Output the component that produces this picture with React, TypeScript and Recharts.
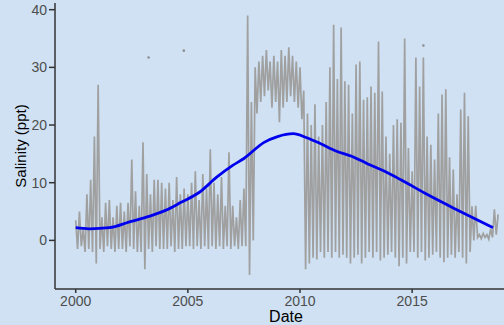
import React from 'react';
import { ComposedChart, Line, Scatter, XAxis, YAxis } from 'recharts';

// monthly readings (alternating highs and lows)
const s2000 = [3.5, -1.5, 5, -1, 2, -2, 8, -1.5, 10.5, -2, 18, -4];
const s2001 = [27, -1.5, 4, -2, 6.5, -1, 7, -1.5, 4, -2, 6, -1.5];
const s2002 = [6.5, -1.5, 5, -2, 6.5, -1, 14, -1.5, 8.5, -2, 6, -2];
const s2003 = [17, -5, 11.5, -1.5, 8, -2, 10.5, -1, 10.5, -1.5, 10, -1.5];
const s2004 = [9, -1.5, 10, -1, 7, -2, 11, -1.5, 8, -1.5, 9, -1];
const s2005 = [8, -1, 10, -1.5, 12, -1, 7, -1.5, 11.5, -1, 9, -1.5];
const s2006 = [15.8, -1, 10, -1.5, 8, -1, 11, -1.5, 6, -1, 15.3, -1.5];
const s2007 = [6, -1, 4, -1.5, 7, -1, 9, -1, 39, -6, 24, 0];
const s2008 = [30, 22, 31, 24, 32, 25, 33, 26, 31, 23, 32, 24];
const s2009 = [31, 20.5, 33, 23, 32, 24, 33.5, 25, 32, 24, 31, 23];
const s2010 = [30, 21, 26, -5, 22, -4, 20, -3, 23.6, -3.3, 18, -2];
const s2011 = [20, -3, 24, -2, 30, -3, 37.4, -2, 28, -3, 36.9, -2.5];
const s2012 = [27.6, -3, 27, -4, 22, -3, 30.5, -2.5, 31, -4, 24.4, -3];
const s2013 = [24.8, -2, 26.7, -3, 25.6, -2, 34.5, -3.5, 25.8, -3, 18, -2.5];
const s2014 = [15, -2, 20, -3, 21, -4.5, 20.4, -3, 35, -4, 16, -2];
const s2015 = [12, -2, 31.7, -3, 26.7, -2, 31.7, -3.5, 18, -3, 16.6, -2.5];
const s2016 = [14, -2, 22, -3, 25.3, -3.8, 26.2, -3, 14.4, -2.5, 12.3, -3];
const s2017 = [8, -2, 22.7, -3, 25.6, -4, 21.5, -2, 5.9, 0, 6, 0.5];
const s2018 = [1, 0.3, 1.2, 0.5, 1, 0.2, 2, 0.5, 5.4, 1, 4.5];

const firstYear = 2000;
const yearRows = [s2000, s2001, s2002, s2003, s2004, s2005, s2006, s2007, s2008, s2009,
  s2010, s2011, s2012, s2013, s2014, s2015, s2016, s2017, s2018];

// isolated readings
const dotDates = [2003.25, 2004.82, 2015.5];
const dotValues = [31.7, 32.9, 33.8];

// loess trend
const smoothDates = [2000, 2000.6, 2001.5, 2002.4, 2003.3, 2004.0, 2004.7, 2005.5, 2006.3, 2007.0,
  2007.5, 2008.4, 2009.0, 2009.7, 2010.3, 2010.9, 2011.6, 2012.3, 2013.0, 2013.7, 2014.5, 2015.7, 2017.1, 2018.6];
const smoothValues = [2.2, 2.0, 2.2, 3.2, 4.2, 5.2, 6.6, 8.3, 11.0, 13.0,
  14.2, 17.0, 18.0, 18.5, 17.8, 16.8, 15.5, 14.6, 13.3, 12.1, 10.5, 7.9, 5.1, 2.2];

const xTicks = [2000, 2005, 2010, 2015];
const yTicks = [0, 10, 20, 30, 40];

const salinity = yearRows.flatMap((row, yi) =>
  row.map((v, mi) => ({ t: firstYear + yi + mi / 12, sal: v }))
);
const dots = dotDates.map((t, i) => ({ t, sal: dotValues[i] }));
const smooth = smoothDates.map((t, i) => ({ t, fit: smoothValues[i] }));

const font = 'Liberation Sans, Arial, Helvetica, sans-serif';

export default function App() {
  return (
    <div style={{ position: 'absolute', left: 0, top: 0, width: 504, height: 325, background: '#cfe1f2', fontFamily: font }}>
      <ComposedChart width={504} height={325} margin={{ top: 3, right: 0, bottom: 0, left: 0 }}>
        <XAxis
          type="number"
          dataKey="t"
          domain={[1999.077, 2019.095]}
          ticks={xTicks}
          allowDataOverflow
          height={36}
          tickSize={4}
          tickMargin={3}
          stroke="#333"
          strokeWidth={1.5}
          tick={{ fill: '#4d4d4d', fontSize: 14, fontFamily: font }}
          label={({ viewBox }: any) => (
            <text x={286} y={viewBox.y + 33} textAnchor="middle" fill="#000" fontSize={16} fontFamily={font}>Date</text>
          )}
        />
        <YAxis
          type="number"
          domain={[-8.43, 41.16]}
          ticks={yTicks}
          allowDataOverflow
          width={55}
          tickSize={6}
          tickMargin={2}
          stroke="#333"
          strokeWidth={1.5}
          tick={{ fill: '#4d4d4d', fontSize: 14, fontFamily: font }}
          label={({ viewBox }: any) => {
            const cy = viewBox.y + viewBox.height / 2;
            return (
              <text x={26} y={cy} transform={`rotate(-90 26 ${cy})`} textAnchor="middle" fill="#000" fontSize={15} fontFamily={font}>
                Salinity (ppt)
              </text>
            );
          }}
        />
        <Line data={salinity} dataKey="sal" stroke="#a0a0a0" strokeWidth={1.7} dot={false} isAnimationActive={false} type="linear" />
        <Scatter data={dots} dataKey="sal" fill="#8f8f8f" shape={(p: any) => <circle cx={p.cx} cy={p.cy} r={1.3} fill="#8f8f8f" />} isAnimationActive={false} />
        <Line data={smooth} dataKey="fit" stroke="#0000ee" strokeWidth={2.8} dot={false} isAnimationActive={false} type="monotone" />
      </ComposedChart>
    </div>
  );
}
